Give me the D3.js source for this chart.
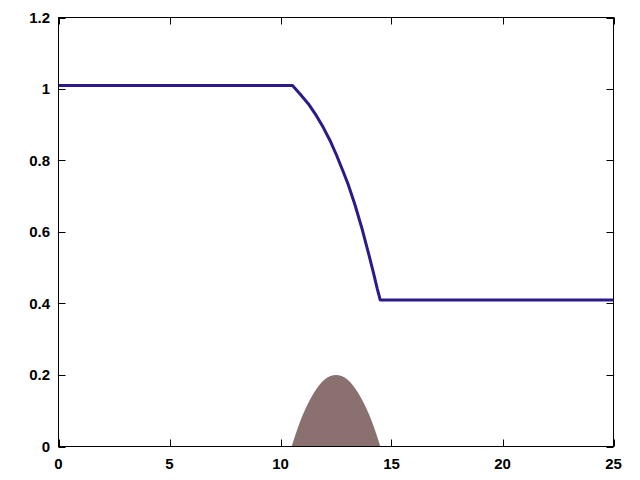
<!DOCTYPE html>
<html lang="en">
<head>
    <meta charset="UTF-8">
    <script src="https://cdn.jsdelivr.net/npm/d3@7"></script>
    <style>
        body { margin: 0; background: #fff; }
        text { font-family: "Liberation Sans", Arial, sans-serif; font-weight: bold; font-size: 15px; }
    </style>
</head>
<body>
<svg width="640" height="480"></svg>
<script>
    // free surface (h + z)
    var surfX = [0, 10.54, 10.88, 11.25, 11.63, 11.93, 12.23, 12.53, 12.83, 13.05, 13.35, 13.66, 13.95, 14.18, 14.36, 14.45, 14.49, 25];
    var surfY = [1.01, 1.01, 0.986, 0.959, 0.924, 0.892, 0.856, 0.814, 0.768, 0.733, 0.677, 0.612, 0.544, 0.488, 0.441, 0.42, 0.41, 0.41];
    // bottom topography (bump)
    var bumpX = [10.5, 10.75, 11, 11.25, 11.5, 11.75, 12, 12.25, 12.5, 12.75, 13, 13.25, 13.5, 13.75, 14, 14.25, 14.5];
    var bumpY = [0, 0.047, 0.088, 0.122, 0.150, 0.172, 0.188, 0.197, 0.2, 0.197, 0.188, 0.172, 0.150, 0.122, 0.088, 0.047, 0];
    var xTicks = [0, 5, 10, 15, 20, 25];
    var yTicks = [0, 0.2, 0.4, 0.6, 0.8, 1, 1.2];

    var svg = d3.select("svg");
    var padL = 58.5, padR = 613.5, padT = 17.5, padB = 446.5;
    var x = d3.scaleLinear().domain([0, 25]).range([padL, padR]);
    var y = d3.scaleLinear().domain([0, 1.2]).range([padB, padT]);

    var bump = bumpX.map(function (d, i) { return [d, bumpY[i]]; });
    svg.append("path")
        .attr("d", d3.area().x(function (d) { return x(d[0]); })
            .y0(y(0)).y1(function (d) { return y(d[1]); })
            .curve(d3.curveMonotoneX)(bump))
        .attr("fill", "#8b7070");

    var surf = surfX.map(function (d, i) { return [d, surfY[i]]; });
    svg.append("path")
        .attr("d", d3.line().x(function (d) { return x(d[0]); })
            .y(function (d) { return y(d[1]); })(surf))
        .attr("fill", "none")
        .attr("stroke", "#2a1a8a")
        .attr("stroke-width", 3)
        .attr("stroke-linejoin", "round");

    // frame with inward ticks on all sides
    var tick = 7;
    var g = svg.append("g").attr("stroke", "#000").attr("stroke-width", 1);
    xTicks.forEach(function (t) {
        var px = Math.round(x(t)) + 0.5;
        g.append("line").attr("x1", px).attr("x2", px).attr("y1", padB).attr("y2", padB - tick);
        g.append("line").attr("x1", px).attr("x2", px).attr("y1", padT).attr("y2", padT + tick);
    });
    yTicks.forEach(function (t) {
        var py = Math.round(y(t)) + 0.5;
        g.append("line").attr("x1", padL).attr("x2", padL + tick).attr("y1", py).attr("y2", py);
        g.append("line").attr("x1", padR).attr("x2", padR - tick).attr("y1", py).attr("y2", py);
    });
    svg.append("rect")
        .attr("x", padL).attr("y", padT)
        .attr("width", padR - padL).attr("height", padB - padT)
        .attr("fill", "none").attr("stroke", "#000");

    svg.selectAll(".xl").data(xTicks).enter().append("text")
        .attr("x", function (d) { return x(d); })
        .attr("y", 469)
        .attr("text-anchor", "middle")
        .text(function (d) { return d; });
    svg.selectAll(".yl").data(yTicks).enter().append("text")
        .attr("x", 50)
        .attr("y", function (d) { return y(d) + 5; })
        .attr("text-anchor", "end")
        .text(function (d) { return d; });
</script>
</body>
</html>
